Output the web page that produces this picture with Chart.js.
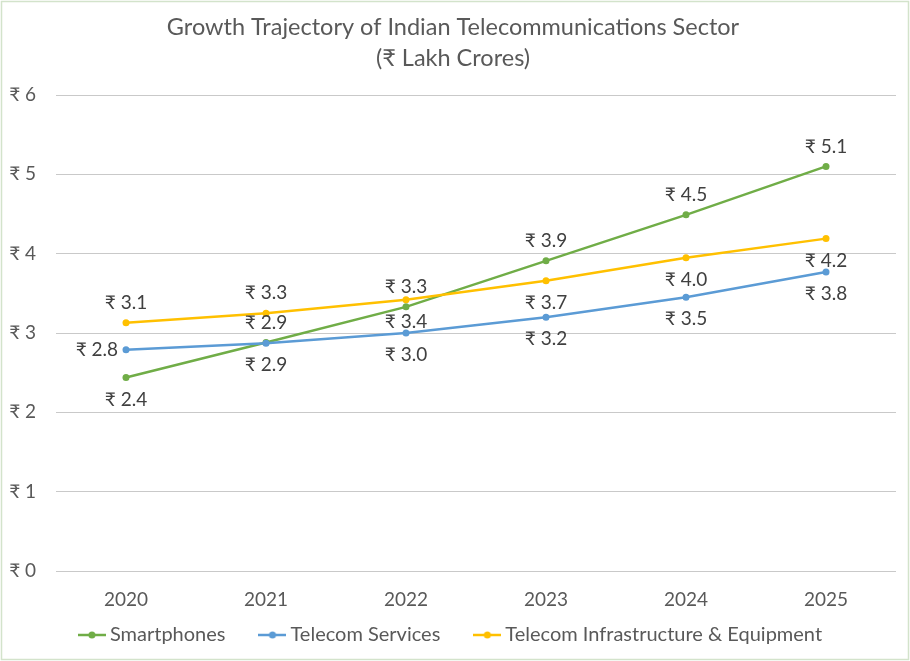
<!DOCTYPE html>
<html><head><meta charset="utf-8">
<script src="https://cdn.jsdelivr.net/npm/chart.js@4.4.0/dist/chart.umd.min.js"></script>
<style>html,body{margin:0;padding:0;background:#fff;} #wrap{width:910px;height:661px;position:relative;}</style>
</head><body><div id="wrap"><canvas id="c" width="910" height="661"></canvas></div>
<script>
const categories = ['2020', '2021', '2022', '2023', '2024', '2025'];
const smartphones = [2.44, 2.88, 3.33, 3.91, 4.49, 5.10];
const telecomServices = [2.79, 2.87, 3.00, 3.20, 3.45, 3.77];
const infrastructure = [3.13, 3.25, 3.42, 3.66, 3.95, 4.19];
const seriesNames = ['Smartphones', 'Telecom Services', 'Telecom Infrastructure & Equipment'];
const titleLines = ['Growth Trajectory of Indian Telecommunications Sector', '(\u20B9 Lakh Crores)'];
const yMin = 0, yMax = 6, yStep = 1;

const FONT = "Lato, 'Noto Sans', sans-serif";
const TXT = '#595959';
const colors = ['#70AD47', '#5B9BD5', '#FFC000'];
const labelPos = [
  ['below', 'above', 'above', 'above', 'above', 'above'],
  ['left', 'below', 'below', 'below', 'below', 'below'],
  ['above', 'above', 'below', 'below', 'below', 'below']
];
const LEGEND_H = 50;

function makeMarker(color) {
  const c = document.createElement('canvas');
  c.width = 28; c.height = 10;
  const x = c.getContext('2d');
  x.strokeStyle = color; x.lineWidth = 2.5;
  x.beginPath(); x.moveTo(0, 5); x.lineTo(28, 5); x.stroke();
  x.fillStyle = color; x.beginPath(); x.arc(14, 5, 3.5, 0, Math.PI * 2); x.fill();
  return c;
}
const markers = colors.map(makeMarker);

const frame = {
  id: 'frame',
  beforeUpdate(chart) {
    const lg = chart.legend;
    if (lg && !lg._patched) {
      const f = lg.fit;
      lg.fit = function () { f.call(this); this.height = LEGEND_H; };
      lg._patched = true;
    }
  },
  beforeDraw(chart) {
    const ctx = chart.ctx;
    ctx.save();
    ctx.fillStyle = '#fff';
    ctx.fillRect(0, 0, chart.width, chart.height);
    ctx.strokeStyle = '#d3e3cb';
    ctx.lineWidth = 1.5;
    ctx.strokeRect(1.5, 1.5, chart.width - 3, chart.height - 3);
    ctx.restore();
  }
};

const dataLabels = {
  id: 'dataLabels',
  afterDatasetsDraw(chart) {
    const ctx = chart.ctx;
    ctx.save();
    ctx.font = "19px " + FONT;
    ctx.fillStyle = '#404040';
    ctx.textBaseline = 'middle';
    chart.data.datasets.forEach((ds, di) => {
      const meta = chart.getDatasetMeta(di);
      meta.data.forEach((pt, i) => {
        const txt = '\u20B9 ' + ds.data[i].toFixed(1);
        const pos = labelPos[di][i];
        if (pos === 'left') {
          ctx.textAlign = 'right';
          ctx.fillText(txt, pt.x - 8, pt.y);
        } else {
          ctx.textAlign = 'center';
          ctx.fillText(txt, pt.x, pos === 'above' ? pt.y - 20 : pt.y + 22);
        }
      });
    });
    ctx.restore();
  }
};

const seriesData = [smartphones, telecomServices, infrastructure];
const datasets = seriesData.map((d, i) => ({
  label: seriesNames[i],
  data: d,
  borderColor: colors[i],
  backgroundColor: colors[i],
  borderWidth: 2.5,
  pointRadius: 3.5,
  pointHoverRadius: 3.5,
  pointBorderWidth: 0,
  tension: 0,
  order: 2 - i
}));

new Chart(document.getElementById('c'), {
  type: 'line',
  data: { labels: categories, datasets },
  options: {
    responsive: false,
    animation: false,
    layout: { padding: { left: 10, right: 14, top: 0, bottom: 0 } },
    plugins: {
      title: {
        display: true,
        text: titleLines,
        color: TXT,
        font: { family: FONT, size: 23.5, weight: 'normal', lineHeight: 1.32 },
        padding: { top: 11.5, bottom: 21.5 }
      },
      legend: {
        position: 'bottom',
        labels: {
          color: TXT,
          font: { family: FONT, size: 20 },
          usePointStyle: true,
          pointStyleWidth: 16,
          padding: 14,
          sort: (a, b) => a.datasetIndex - b.datasetIndex,
          generateLabels(chart) {
            const items = Chart.defaults.plugins.legend.labels.generateLabels(chart);
            items.forEach(it => {
              it.pointStyle = markers[it.datasetIndex];
              if (it.datasetIndex < items.length - 1) it.text = it.text + '\u2003\u2002';
            });
            return items;
          }
        }
      },
      tooltip: { enabled: false }
    },
    scales: {
      x: {
        offset: true,
        afterFit(scale) { scale.height = 40; },
        grid: { display: false, drawTicks: false },
        border: { display: false },
        ticks: { color: TXT, font: { family: FONT, size: 19 }, padding: 17 }
      },
      y: {
        min: yMin, max: yMax,
        afterFit(scale) { scale.width = 46; },
        grid: { color: '#c9c9c9', lineWidth: 1, drawTicks: false },
        border: { display: false },
        ticks: {
          stepSize: yStep,
          color: TXT,
          font: { family: FONT, size: 19 },
          padding: 20,
          callback: v => '\u20B9 ' + v
        }
      }
    }
  },
  plugins: [frame, dataLabels]
});
</script>
</body></html>
